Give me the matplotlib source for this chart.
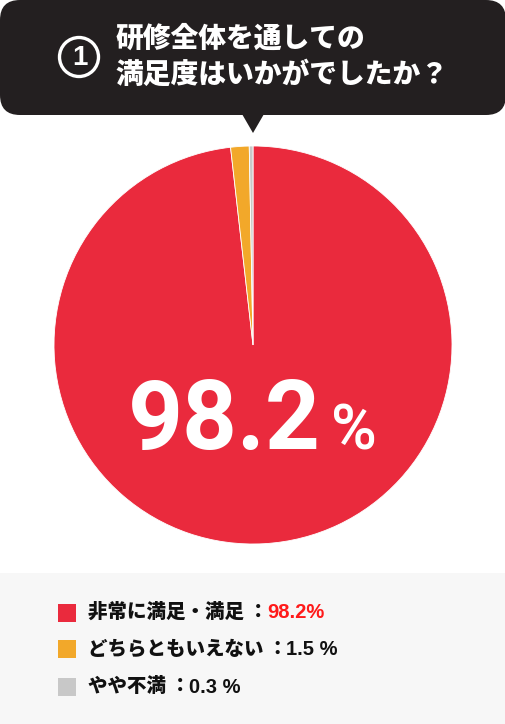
import matplotlib
matplotlib.use("Agg")
import matplotlib.pyplot as plt
from matplotlib.patches import FancyBboxPatch, Polygon, Circle, Rectangle

# ---- data ----
categories = ["非常に満足・満足", "どちらともいえない", "やや不満"]
values = [98.2, 1.5, 0.3]
value_labels = ["98.2%", "1.5 %", "0.3 %"]
colors = ["#EA2A3D", "#F2A82A", "#C8C8C8"]
title_lines = ["研修全体を通しての", "満足度はいかがでしたか？"]
title_number = "1"
center_value = "98.2"

W, H = 506, 724
fig = plt.figure(figsize=(W / 100, H / 100), dpi=100)
fig.patch.set_facecolor("white")

# background axes in pixel coordinates
bg = fig.add_axes([0, 0, 1, 1])
bg.set_xlim(0, W)
bg.set_ylim(H, 0)
bg.axis("off")

JP = ["Noto Sans CJK JP", "DejaVu Sans"]
LAT = ["Liberation Sans", "DejaVu Sans"]
BIG = ["Roboto", "Liberation Sans", "DejaVu Sans"]
DARK = "#231F20"

# speech bubble
bubble = FancyBboxPatch((20, 20), W - 40, 115 - 40,
                        boxstyle="round,pad=20", fc=DARK, ec="none", zorder=1)
bg.add_patch(bubble)
bg.add_patch(Rectangle((20, -10), W - 40, 30, fc=DARK, ec="none", zorder=1))
bg.add_patch(Polygon([[242, 114], [264, 114], [253, 133]], closed=True,
                     fc=DARK, ec="none", zorder=1))

# circled number
bg.add_patch(Circle((79, 57), 19.5, fc="none", ec="white", lw=2.4, zorder=2))
bg.text(79.5, 58, title_number, color="white", fontsize=20, fontweight="bold",
        family=LAT, ha="center", va="center", zorder=3)

bg.text(116, 39, title_lines[0], color="white", fontsize=20, fontweight="heavy",
        family=JP, ha="left", va="center", zorder=3)
bg.text(116, 75, title_lines[1], color="white", fontsize=20, fontweight="heavy",
        family=JP, ha="left", va="center", zorder=3)

# legend panel
bg.add_patch(Rectangle((0, 573), W, H - 573, fc="#F7F7F7", ec="none", zorder=0))

# pie
cx, cy, r = 253, 345, 199
pax = fig.add_axes([(cx - r) / W, (H - cy - r) / H, 2 * r / W, 2 * r / H])
pax.pie(values, colors=colors, startangle=90, counterclock=False,
        wedgeprops=dict(linewidth=0.6, edgecolor="white"))
pax.set_xlim(-1, 1)
pax.set_ylim(-1, 1)
pax.set_aspect("auto")
pax.axis("off")

# overlay axes for text on top of pie
ov = fig.add_axes([0, 0, 1, 1])
ov.set_xlim(0, W)
ov.set_ylim(H, 0)
ov.axis("off")
ov.patch.set_alpha(0)

# center value text
ov.text(128, 449, center_value, color="white", fontsize=69, fontweight="bold",
        family=BIG, ha="left", va="baseline", zorder=5)
ov.text(331, 449, "%", color="white", fontsize=45, fontweight="medium",
        family=BIG, ha="left", va="baseline", zorder=5)

# legend rows
row_y = [612.5, 649, 687]
fig.canvas.draw()
renderer = fig.canvas.get_renderer()
for i, (cat, lab, col) in enumerate(zip(categories, value_labels, colors)):
    y = row_y[i]
    ov.add_patch(Rectangle((58, y - 9), 18, 18, fc=col, ec="none", zorder=2))
    t = ov.text(88, y, cat + " ：", color="#111111", fontsize=14,
                fontweight="heavy", family=JP, ha="left", va="center", zorder=3)
    bb = t.get_window_extent(renderer=renderer)
    x_end = bb.x1
    vcol = "#FF1A1A" if i == 0 else "#111111"
    ov.text(x_end - 1, y + 0.5, lab, color=vcol, fontsize=14.5, fontweight="bold",
            family=LAT, ha="left", va="center", zorder=3)

fig.savefig("out.png", dpi=100, facecolor="white")
